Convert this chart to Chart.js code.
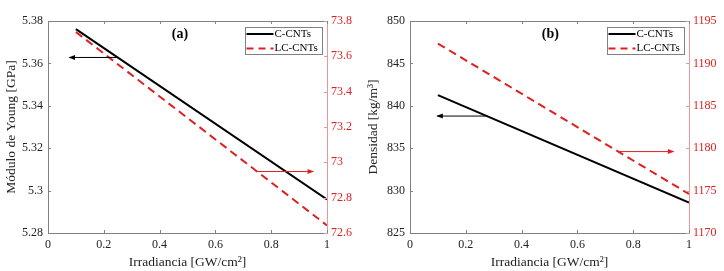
<!DOCTYPE html>
<html>
<head>
<meta charset="utf-8">
<script src="https://cdn.jsdelivr.net/npm/chart.js@4.4.0/dist/chart.umd.min.js"></script>
<style>
  body { margin: 0; background: #fff; }
  .panel { position: absolute; top: 0; width: 362px; height: 271px; }
</style>
</head>
<body>
<div class="panel" style="left:0"><canvas id="chartA" width="362" height="271"></canvas></div>
<div class="panel" style="left:362px"><canvas id="chartB" width="362" height="271"></canvas></div>
<script>
// irradiance (GW/cm2) at both ends of each line
var irradiance = [0.1, 1.0];

// (a) Young's modulus [GPa]
var youngC = [5.3762, 5.2958];    // left axis
var youngLC = [73.738, 72.643];   // right axis

// (b) density [kg/m3]
var densC = [841.26, 828.6];      // left axis
var densLC = [1192.34, 1174.6];   // right axis

// tick labels
var xTicks = [0, 0.2, 0.4, 0.6, 0.8, 1];
var youngLeftTicks = [5.28, 5.3, 5.32, 5.34, 5.36, 5.38];
var youngRightTicks = [72.6, 72.8, 73, 73.2, 73.4, 73.6, 73.8];
var densLeftTicks = [825, 830, 835, 840, 845, 850];
var densRightTicks = [1170, 1175, 1180, 1185, 1190, 1195];

// axis pointer arrows: [tail, head] in data units
var arrowA_left = [[0.2525, 5.3628], [0.077, 5.3628]];
var arrowA_right = [[0.745, 72.948], [0.95, 72.948]];
var arrowB_left = [[0.276, 838.79], [0.098, 838.79]];
var arrowB_right = [[0.7475, 1179.6], [0.944, 1179.6]];

var seriesNames = ['C-CNTs', 'LC-CNTs'];

var FONT = "'Liberation Serif', 'Times New Roman', serif";
var GRAY = '#808080';
var RED = '#dd2020';
var RED_AXIS = '#e59a9a';

function pts(xs, ys) {
  return xs.map(function (x, i) { return { x: x, y: ys[i] }; });
}

function fixedTicks(arr) {
  return function (scale) {
    scale.ticks = arr.map(function (v) { return { value: v }; });
  };
}

function drawArrow(ctx, x0, y0, x1, y1, color) {
  ctx.strokeStyle = color;
  ctx.fillStyle = color;
  ctx.lineWidth = 1;
  ctx.beginPath();
  ctx.moveTo(x0, y0);
  ctx.lineTo(x1, y1);
  ctx.stroke();
  var dir = x1 > x0 ? 1 : -1;
  ctx.beginPath();
  ctx.moveTo(x1 + dir * 1, y1);
  ctx.lineTo(x1 - dir * 5.5, y1 - 2.5);
  ctx.lineTo(x1 - dir * 5.5, y1 + 2.5);
  ctx.closePath();
  ctx.fill();
}

var decorPlugin = {
  id: 'decor',
  afterDraw: function (chart) {
    var o = chart.options.plugins.decor;
    var ctx = chart.ctx, a = chart.chartArea;
    var sx = chart.scales.x, sy = chart.scales.y, sy1 = chart.scales.y1;
    ctx.save();
    ctx.lineWidth = 1;

    // top edge of the box
    ctx.strokeStyle = GRAY;
    ctx.beginPath();
    ctx.moveTo(a.left, a.top + 0.5);
    ctx.lineTo(a.right, a.top + 0.5);
    ctx.stroke();

    // inward tick marks
    ctx.beginPath();
    sx.ticks.forEach(function (t) {
      var px = Math.round(sx.getPixelForValue(t.value)) + 0.5;
      ctx.moveTo(px, a.bottom); ctx.lineTo(px, a.bottom - 3);
      ctx.moveTo(px, a.top); ctx.lineTo(px, a.top + 3);
    });
    sy.ticks.forEach(function (t) {
      var py = Math.round(sy.getPixelForValue(t.value)) + 0.5;
      ctx.moveTo(a.left, py); ctx.lineTo(a.left + 3, py);
    });
    ctx.stroke();
    ctx.strokeStyle = RED_AXIS;
    ctx.beginPath();
    sy1.ticks.forEach(function (t) {
      var py = Math.round(sy1.getPixelForValue(t.value)) + 0.5;
      ctx.moveTo(a.right, py); ctx.lineTo(a.right - 3, py);
    });
    ctx.stroke();

    // arrows pointing to the matching axis
    var L = o.arrowLeft, R = o.arrowRight;
    drawArrow(ctx, sx.getPixelForValue(L[0][0]), sy.getPixelForValue(L[0][1]),
      sx.getPixelForValue(L[1][0]), sy.getPixelForValue(L[1][1]), '#000');
    drawArrow(ctx, sx.getPixelForValue(R[0][0]), sy1.getPixelForValue(R[0][1]),
      sx.getPixelForValue(R[1][0]), sy1.getPixelForValue(R[1][1]), RED);

    // panel label
    ctx.fillStyle = '#000';
    ctx.font = 'bold 14px ' + FONT;
    ctx.textAlign = 'center';
    ctx.textBaseline = 'middle';
    ctx.fillText(o.label, a.left + o.labelPos * (a.right - a.left), a.top + 13.5);

    // legend box
    var bw = 77, bh = 27;
    var bx = a.right - 5.5 - bw, by = a.top + 6;
    ctx.fillStyle = '#fff';
    ctx.fillRect(bx, by, bw, bh);
    ctx.strokeStyle = GRAY;
    ctx.strokeRect(Math.round(bx) + 0.5, Math.round(by) + 0.5, bw, bh);
    ctx.lineWidth = 2;
    ctx.strokeStyle = '#000';
    ctx.beginPath();
    ctx.moveTo(bx + 2, by + 7); ctx.lineTo(bx + 29, by + 7);
    ctx.stroke();
    ctx.strokeStyle = RED;
    ctx.setLineDash([7, 5]);
    ctx.beginPath();
    ctx.moveTo(bx + 2, by + 21.5); ctx.lineTo(bx + 29, by + 21.5);
    ctx.stroke();
    ctx.setLineDash([]);
    ctx.fillStyle = '#000';
    ctx.font = '11px ' + FONT;
    ctx.textAlign = 'left';
    ctx.fillText(seriesNames[0], bx + 30, by + 7.5);
    ctx.fillText(seriesNames[1], bx + 30, by + 21.5);

    ctx.restore();
  }
};

function makeChart(id, cData, lcData, leftTicks, rightTicks, yTitle, label, labelPos, arrL, arrR) {
  return new Chart(document.getElementById(id), {
    type: 'line',
    data: {
      datasets: [
        {
          label: seriesNames[0],
          data: pts(irradiance, cData),
          yAxisID: 'y',
          borderColor: '#000',
          borderWidth: 2,
          pointRadius: 0,
          tension: 0
        },
        {
          label: seriesNames[1],
          data: pts(irradiance, lcData),
          yAxisID: 'y1',
          borderColor: RED,
          borderWidth: 2,
          borderDash: [8, 5],
          pointRadius: 0,
          tension: 0
        }
      ]
    },
    options: {
      responsive: false,
      animation: false,
      layout: { padding: { top: 21, left: 0, right: 0, bottom: 0 } },
      plugins: {
        legend: { display: false },
        tooltip: { enabled: false },
        decor: { label: label, labelPos: labelPos, arrowLeft: arrL, arrowRight: arrR }
      },
      scales: {
        x: {
          type: 'linear',
          min: 0, max: 1,
          afterBuildTicks: fixedTicks(xTicks),
          afterFit: function (s) { s.height = 38; },
          grid: { drawOnChartArea: false, drawTicks: false },
          border: { display: true, color: GRAY, width: 1 },
          ticks: {
            padding: 5,
            color: '#222',
            font: { family: FONT, size: 12 },
            maxRotation: 0,
            callback: function (v) { return String(+v.toFixed(4)); }
          },
          title: {
            display: true,
            text: 'Irradiancia [GW/cm²]',
            color: '#222',
            font: { family: FONT, size: 13.5 },
            padding: 0
          }
        },
        y: {
          position: 'left',
          min: leftTicks[0], max: leftTicks[leftTicks.length - 1],
          afterBuildTicks: fixedTicks(leftTicks),
          afterFit: function (s) { s.width = 48; },
          grid: { drawOnChartArea: false, drawTicks: false },
          border: { display: true, color: GRAY, width: 1 },
          ticks: {
            padding: 5,
            color: '#222',
            font: { family: FONT, size: 12 },
            callback: function (v) { return String(+v.toFixed(4)); }
          },
          title: {
            display: true,
            text: yTitle,
            color: '#222',
            font: { family: FONT, size: 13.5 },
            padding: { top: 3, bottom: 0 }
          }
        },
        y1: {
          position: 'right',
          min: rightTicks[0], max: rightTicks[rightTicks.length - 1],
          afterBuildTicks: fixedTicks(rightTicks),
          afterFit: function (s) { s.width = 35; },
          grid: { drawOnChartArea: false, drawTicks: false },
          border: { display: true, color: RED_AXIS, width: 1 },
          ticks: {
            padding: 4,
            color: RED,
            font: { family: FONT, size: 12 },
            callback: function (v) { return String(+v.toFixed(4)); }
          }
        }
      }
    },
    plugins: [decorPlugin]
  });
}

makeChart('chartA', youngC, youngLC, youngLeftTicks, youngRightTicks,
  'Módulo de Young [GPa]', '(a)', 0.473, arrowA_left, arrowA_right);
makeChart('chartB', densC, densLC, densLeftTicks, densRightTicks,
  'Densidad [kg/m³]', '(b)', 0.503, arrowB_left, arrowB_right);
</script>
</body>
</html>
